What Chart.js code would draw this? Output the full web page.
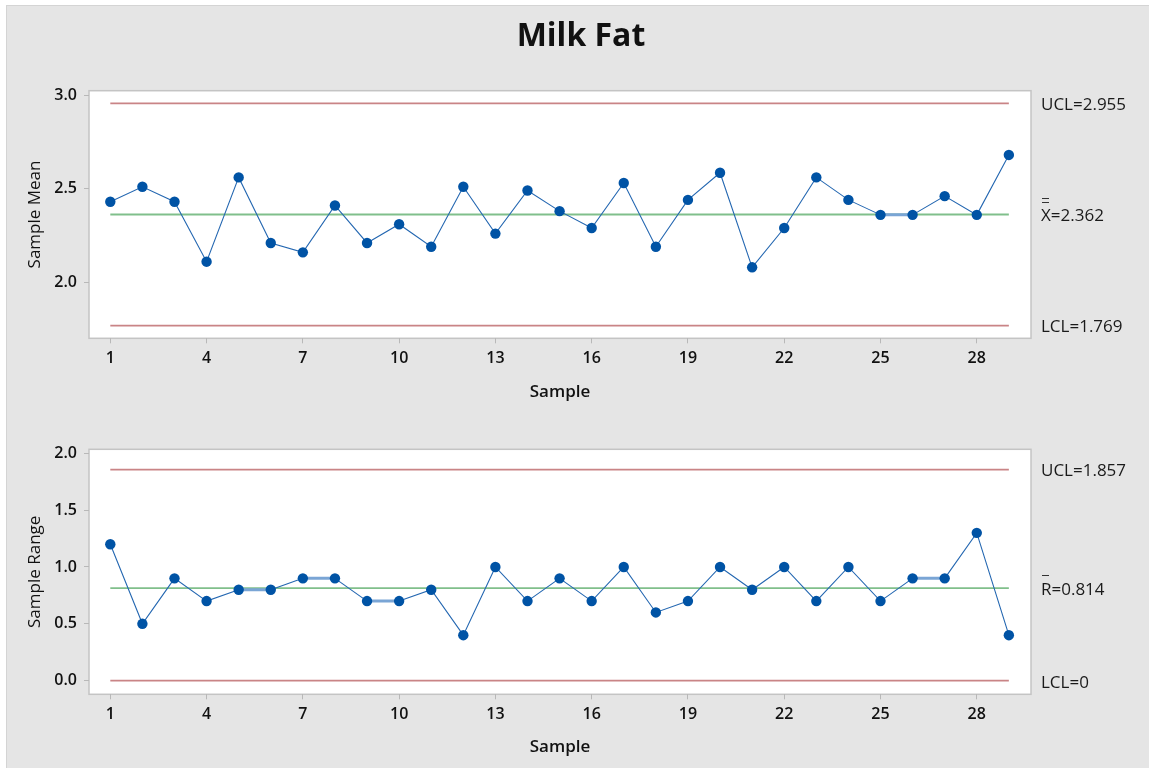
<!DOCTYPE html>
<html>
<head>
<meta charset="utf-8">
<title>Milk Fat</title>
<script src="https://cdn.jsdelivr.net/npm/chart.js@4.4.1/dist/chart.umd.min.js"></script>
<style>
    html, body { margin: 0; padding: 0; background: #ffffff; width: 1149px; height: 768px; overflow: hidden; }
    #frame {
        position: absolute; left: 6px; top: 5px; right: 0; bottom: 0;
        background: #e5e5e5;
        border-left: 1px solid #d4d4d4;
        border-top: 1px solid #d4d4d4;
    }
    canvas { position: absolute; left: 0; }
    #meanChart { top: 0; }
    #rangeChart { top: 420px; }
</style>
</head>
<body>
<div id="frame"></div>
<canvas id="meanChart" width="1149" height="420"></canvas>
<canvas id="rangeChart" width="1149" height="348"></canvas>

<script>
// 樣本編號
const samples = [1, 2, 3, 4, 5, 6, 7, 8, 9, 10, 11, 12, 13, 14, 15, 16, 17, 18, 19, 20,
    21, 22, 23, 24, 25, 26, 27, 28, 29];

// 樣本平均
const meanValues = [2.43, 2.51, 2.43, 2.11, 2.56, 2.21, 2.16, 2.41, 2.21, 2.31,
    2.19, 2.51, 2.26, 2.49, 2.38, 2.29, 2.53, 2.19, 2.44, 2.585,
    2.08, 2.29, 2.56, 2.44, 2.36, 2.36, 2.46, 2.36, 2.68];

// 樣本全距
const rangeValues = [1.2, 0.5, 0.9, 0.7, 0.8, 0.8, 0.9, 0.9, 0.7, 0.7,
    0.8, 0.4, 1.0, 0.7, 0.9, 0.7, 1.0, 0.6, 0.7, 1.0,
    0.8, 1.0, 0.7, 1.0, 0.7, 0.9, 0.9, 1.3, 0.4];

// 刻度
const xTicks = [1, 4, 7, 10, 13, 16, 19, 22, 25, 28];
const meanTicks = [2.0, 2.5, 3.0];
const rangeTicks = [0.0, 0.5, 1.0, 1.5, 2.0];

// 管制界限
const meanLimits = [2.955, 2.362, 1.769];
const meanLimitLabels = ['UCL=2.955', 'X=2.362', 'LCL=1.769'];
const rangeLimits = [1.857, 0.814, 0];
const rangeLimitLabels = ['UCL=1.857', 'R=0.814', 'LCL=0'];

const chartTitle = 'Milk Fat';

const FONT = "'Open Sans', 'Noto Sans', sans-serif";
const RED = '#c98486';
const GREEN = '#80bf8b';
const LINE_BLUE = '#2467b1';
const POINT_BLUE = '#0053a5';

// 繪圖區白底與邊框
const plotFrame = {
    id: 'plotFrame',
    beforeDraw(chart) {
        const { ctx, chartArea: a } = chart;
        ctx.save();
        ctx.fillStyle = '#ffffff';
        ctx.fillRect(a.left, a.top, a.right - a.left, a.bottom - a.top);
        ctx.strokeStyle = '#c4c4c4';
        ctx.lineWidth = 1.5;
        ctx.strokeRect(a.left, a.top, a.right - a.left, a.bottom - a.top);
        ctx.restore();
    }
};

// 右側界限標籤與標題
const limitText = {
    id: 'limitText',
    afterDraw(chart, args, opts) {
        const { ctx, chartArea: a } = chart;
        const yScale = chart.scales.y;
        ctx.save();
        if (opts.title) {
            ctx.font = 'bold 32px ' + FONT;
            ctx.fillStyle = '#111111';
            ctx.textAlign = 'center';
            ctx.textBaseline = 'middle';
            ctx.fillText(opts.title, 581, 37);
        }
        ctx.font = '17px ' + FONT;
        ctx.fillStyle = '#1a1a1a';
        ctx.textAlign = 'left';
        ctx.textBaseline = 'middle';
        const x = a.right + 10;
        opts.values.forEach((v, i) => {
            const y = yScale.getPixelForValue(v) + 2;
            ctx.fillText(opts.labels[i], x, y);
            if (i === 1) {
                // 平均符號上方的橫線
                ctx.strokeStyle = '#333333';
                ctx.lineWidth = 1;
                for (let b = 0; b < opts.bars; b++) {
                    const by = Math.round(y - 15 - b * 4) + 0.5;
                    ctx.beginPath();
                    ctx.moveTo(x + 1, by);
                    ctx.lineTo(x + 8, by);
                    ctx.stroke();
                }
            }
        });
        ctx.restore();
    }
};

function limitDataset(value, color) {
    return {
        data: [{ x: samples[0], y: value }, { x: samples[samples.length - 1], y: value }],
        borderColor: color,
        borderWidth: 1.8,
        pointRadius: 0,
        order: 2
    };
}

function drawControlChart(canvasId, values, limits, labels, bars, yRange, yTicks, yTitle, cfg) {
    const ctx = document.getElementById(canvasId).getContext('2d');
    return new Chart(ctx, {
        type: 'line',
        data: {
            datasets: [
                {
                    data: samples.map((s, i) => ({ x: s, y: values[i] })),
                    borderColor: LINE_BLUE,
                    borderWidth: 1.1,
                    pointRadius: 5.2,
                    pointBackgroundColor: POINT_BLUE,
                    pointBorderWidth: 0,
                    segment: {
                        borderColor: c => c.p0.parsed.y === c.p1.parsed.y ? '#7aa5d5' : undefined,
                        borderWidth: c => c.p0.parsed.y === c.p1.parsed.y ? 3 : undefined
                    },
                    order: 1
                },
                limitDataset(limits[0], RED),
                limitDataset(limits[1], GREEN),
                limitDataset(limits[2], RED)
            ]
        },
        options: {
            responsive: false,
            animation: false,
            layout: { padding: { left: 0, right: 118, top: cfg.padTop, bottom: 0 } },
            plugins: {
                legend: { display: false },
                tooltip: { enabled: false },
                title: { display: false },
                limitText: { values: limits, labels: labels, bars: bars, title: cfg.title }
            },
            scales: {
                x: {
                    type: 'linear',
                    min: 0.336,
                    max: 29.69,
                    afterBuildTicks: scale => { scale.ticks = xTicks.map(v => ({ value: v })); },
                    afterFit: scale => { scale.height = cfg.xHeight; },
                    ticks: {
                        color: '#111111',
                        font: { family: FONT, size: 16, weight: '600' },
                        padding: 6,
                        maxRotation: 0,
                        autoSkip: false
                    },
                    grid: { drawOnChartArea: false, drawTicks: true, tickLength: 5, color: '#b8b8b8' },
                    border: { display: false },
                    title: {
                        display: true,
                        text: 'Sample',
                        color: '#111111',
                        font: { family: FONT, size: 17, weight: '600' },
                        padding: { top: 0, bottom: cfg.xTitlePad }
                    }
                },
                y: {
                    min: yRange[0],
                    max: yRange[1],
                    afterBuildTicks: scale => { scale.ticks = yTicks.map(v => ({ value: v })); },
                    afterFit: scale => { scale.width = 89; },
                    ticks: {
                        color: '#111111',
                        font: { family: FONT, size: 16, weight: '600' },
                        padding: 7,
                        callback: v => Number(v).toFixed(1)
                    },
                    grid: { drawOnChartArea: false, drawTicks: true, tickLength: 5, color: '#b8b8b8' },
                    border: { display: false },
                    title: {
                        display: true,
                        text: yTitle,
                        color: '#111111',
                        font: { family: FONT, size: 17 },
                        padding: { top: 24.8, bottom: 0 }
                    }
                }
            }
        },
        plugins: [plotFrame, limitText]
    });
}

document.fonts.load("bold 32px 'Open Sans'").finally(() => {
    drawControlChart('meanChart', meanValues, meanLimits, meanLimitLabels, 2,
        [1.701, 3.023], meanTicks, 'Sample Mean',
        { title: chartTitle, padTop: 90.7, xHeight: 81.7, xTitlePad: 18.1 });

    drawControlChart('rangeChart', rangeValues, rangeLimits, rangeLimitLabels, 1,
        [-0.12, 2.035], rangeTicks, 'Sample Range',
        { title: null, padTop: 29.3, xHeight: 73.7, xTitlePad: 11.1 });
});
</script>
</body>
</html>
